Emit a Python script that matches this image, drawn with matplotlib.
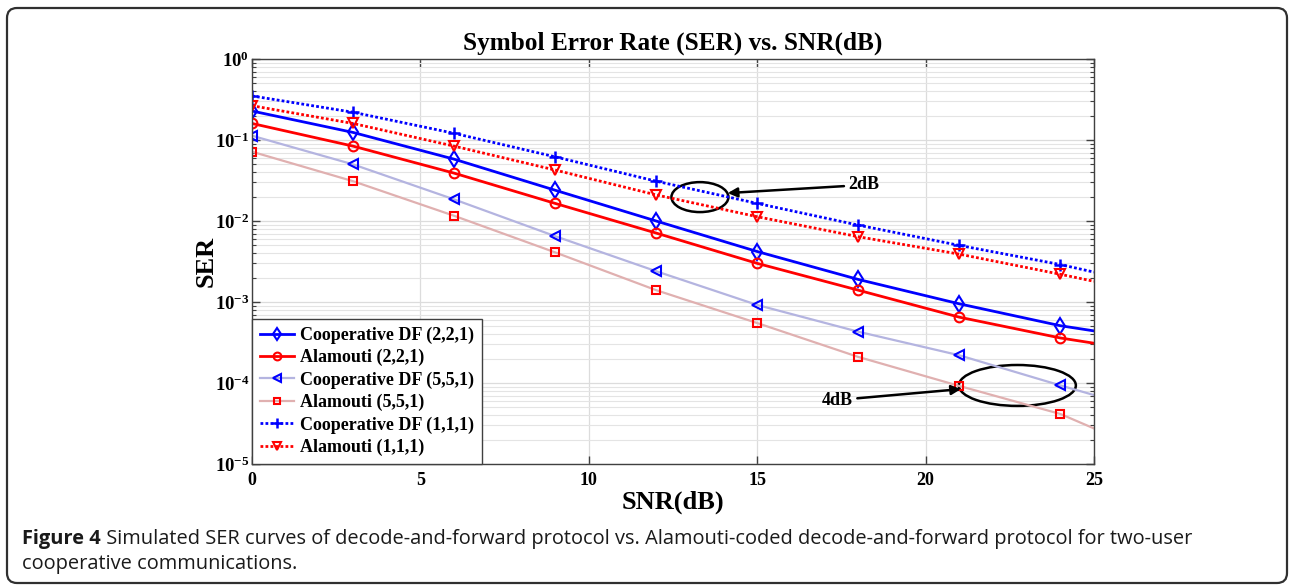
import math
import matplotlib
matplotlib.use("Agg")
import matplotlib.pyplot as plt
from matplotlib.patches import Ellipse, FancyBboxPatch
from matplotlib.ticker import FuncFormatter, LogLocator, NullFormatter

plt.rcParams['mathtext.fontset'] = 'custom'
plt.rcParams['mathtext.rm'] = 'Liberation Serif:bold'
plt.rcParams['mathtext.bf'] = 'Liberation Serif:bold'
plt.rcParams['mathtext.it'] = 'Liberation Serif:bold'

# ---- data ----
snr = [0, 3, 6, 9, 12, 15, 18, 21, 24, 25]
coop_221 = [0.228, 0.124, 0.058, 0.024, 0.010, 0.0042, 0.0019, 0.00095, 0.00051, 0.00044]
ala_221 = [0.16, 0.084, 0.039, 0.0165, 0.0071, 0.0030, 0.0014, 0.00065, 0.00036, 0.00031]
coop_551 = [0.113, 0.050, 0.0185, 0.0065, 0.0024, 0.00092, 0.00043, 0.00022, 0.0000935, 0.000071]
ala_551 = [0.0717, 0.031, 0.0116, 0.0041, 0.0014, 0.00055, 0.00021, 0.000092, 0.0000415, 0.0000275]
coop_111 = [0.35, 0.22, 0.121, 0.062, 0.031, 0.0165, 0.0089, 0.005, 0.0029, 0.00234]
ala_111 = [0.265, 0.16, 0.084, 0.0426, 0.021, 0.0113, 0.0064, 0.0039, 0.0022, 0.0018]

labels = ["Cooperative DF (2,2,1)", "Alamouti (2,2,1)", "Cooperative DF (5,5,1)",
          "Alamouti (5,5,1)", "Cooperative DF (1,1,1)", "Alamouti (1,1,1)"]
title = "Symbol Error Rate (SER) vs. SNR(dB)"
xlabel = "SNR(dB)"
ylabel = "SER"
xticks = [0, 5, 10, 15, 20, 25]
ann1 = "2dB"
ann2 = "4dB"
cap_bold = "Figure 4"
cap_rest = " Simulated SER curves of decode-and-forward protocol vs. Alamouti-coded decode-and-forward protocol for two-user"
cap_line2 = "cooperative communications."

fig = plt.figure(figsize=(12.89, 5.87), dpi=100)
ax = fig.add_axes([0.1955, 0.2095, 0.6532, 0.69])

serif = 'Liberation Serif'
mk = list(range(9))
dot = (0, (1, 0.8))

ax.plot(snr, coop_221, color='#0000ff', lw=2, marker='d', ms=8, mfc='none', mec='#0000ff', mew=1.5, markevery=mk, label=labels[0])
ax.plot(snr, ala_221, color='#ff0000', lw=2, marker='o', ms=7, mfc='none', mec='#ff0000', mew=1.5, markevery=mk, label=labels[1])
ax.plot(snr, coop_551, color='#b4b4e0', lw=1.6, marker='<', ms=7, mfc='none', mec='#0000ff', mew=1.5, markevery=mk, label=labels[2])
ax.plot(snr, ala_551, color='#e0b0b0', lw=1.6, marker='s', ms=6, mfc='none', mec='#ff0000', mew=1.5, markevery=mk, label=labels[3])
ax.plot(snr, coop_111, color='#0000ff', lw=2, ls=dot, marker='+', ms=9, mec='#0000ff', mew=1.8, markevery=mk, label=labels[4])
ax.plot(snr, ala_111, color='#ff0000', lw=2, ls=dot, marker='v', ms=7, mfc='none', mec='#ff0000', mew=1.5, markevery=mk, label=labels[5])

ax.set_yscale('log')
ax.set_xlim(0, 25)
ax.set_ylim(1e-5, 1)
ax.set_xticks(xticks)
ax.set_xticklabels([str(t) for t in xticks], fontfamily=serif, fontweight='bold', fontsize=13)
ax.yaxis.set_major_locator(LogLocator(base=10, numticks=10))
ax.yaxis.set_minor_locator(LogLocator(base=10, subs=range(2, 10), numticks=20))
ax.yaxis.set_major_formatter(FuncFormatter(lambda v, p: r'$\mathbf{10^{%d}}$' % round(math.log10(v))))
ax.yaxis.set_minor_formatter(NullFormatter())

ax.tick_params(which='both', direction='in', top=True, right=True, colors='#404040', labelcolor='black')
ax.tick_params(which='major', length=6, width=1)
ax.tick_params(axis='x', pad=6)
ax.tick_params(axis='y', pad=2, labelsize=13.5)
ax.tick_params(which='minor', length=3, width=0.8)
ax.grid(True, which='major', color='#dcdcdc', lw=0.9)
ax.grid(True, which='minor', axis='y', color='#e4e4e4', lw=0.8)
ax.set_axisbelow(True)
for s in ax.spines.values():
    s.set_color('#404040')
    s.set_linewidth(1)

ax.set_title(title, fontfamily=serif, fontweight='bold', fontsize=18.2, pad=7)
ax.set_xlabel(xlabel, fontfamily=serif, fontweight='bold', fontsize=19, labelpad=1)
ax.set_ylabel(ylabel, fontfamily=serif, fontweight='bold', fontsize=19, labelpad=-2)

leg = ax.legend(loc='lower left', prop={'family': serif, 'weight': 'bold', 'size': 13},
                frameon=True, fancybox=False, edgecolor='#404040', framealpha=1,
                borderaxespad=0, handlelength=1.9, handletextpad=0.3, labelspacing=0.28,
                borderpad=0.45, markerscale=0.8)
leg.get_frame().set_linewidth(1)

# annotations
ax.add_patch(Ellipse((0.532, 0.659), 0.0677, 0.074, transform=ax.transAxes, fill=False, ec='black', lw=1.8))
ax.add_patch(Ellipse((0.909, 0.194), 0.139, 0.101, transform=ax.transAxes, fill=False, ec='black', lw=1.8))
ax.annotate(ann1, xy=(0.565, 0.669), xycoords='axes fraction', xytext=(0.708, 0.689),
            textcoords='axes fraction', ha='left', va='center', fontfamily=serif, fontweight='bold', fontsize=13,
            arrowprops=dict(arrowstyle='-|>', color='black', lw=1.8, mutation_scale=14, shrinkA=1, shrinkB=0))
ax.annotate(ann2, xy=(0.842, 0.185), xycoords='axes fraction', xytext=(0.714, 0.158),
            textcoords='axes fraction', ha='right', va='center', fontfamily=serif, fontweight='bold', fontsize=13,
            arrowprops=dict(arrowstyle='-|>', color='black', lw=1.8, mutation_scale=14, shrinkA=1, shrinkB=0))

# frame
frame = FancyBboxPatch((7, 4), 1280, 575, boxstyle="round,pad=0,rounding_size=10",
                       transform=None, fill=False, ec='#303030', lw=1.6)
fig.add_artist(frame)

# caption
cap_size = 14.45
t1 = fig.text(22 / 1289, 1 - 544 / 587, cap_bold, fontfamily='Open Sans', fontweight='bold', fontsize=cap_size, color='#1a1a1a', va='baseline')
fig.canvas.draw()
bb = t1.get_window_extent()
fig.text(bb.x1 / 1289, 1 - 544 / 587, cap_rest, fontfamily='Open Sans', fontsize=cap_size, color='#1a1a1a', va='baseline')
fig.text(22 / 1289, 1 - 569 / 587, cap_line2, fontfamily='Open Sans', fontsize=cap_size, color='#1a1a1a', va='baseline')

fig.savefig('out.png', dpi=100)
